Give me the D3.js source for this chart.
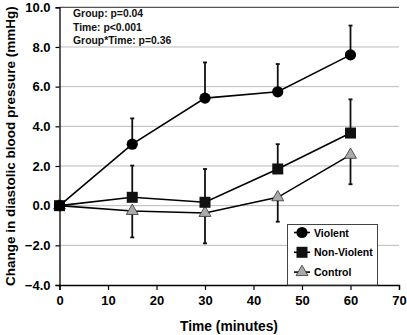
<!DOCTYPE html>
<html lang="en">
<head>
<meta charset="utf-8">
<title>Diastolic blood pressure</title>
<script src="https://d3js.org/d3.v7.min.js"></script>
<style>
  body { margin: 0; background: #fff; }
  text { font-family: "Liberation Sans", Arial, sans-serif; font-weight: bold; }
</style>
</head>
<body>
<script>
// data
const times = [0, 15, 30, 45, 60];
const violent = [0, 3.1, 5.42, 5.74, 7.6];
const violentErr = [0, 1.3, 1.8, 1.4, 1.48];       // drawn upward
const nonViolent = [0, 0.42, 0.17, 1.85, 3.66];
const nonViolentErr = [0, 1.6, 1.68, 1.25, 1.7];   // drawn upward
const control = [0, -0.27, -0.37, 0.42, 2.56];
const controlErr = [0, 1.33, 1.53, 1.23, 1.48];    // drawn downward
const xTicks = [0, 10, 20, 30, 40, 50, 60, 70];
const yTicks = [-4, -2, 0, 2, 4, 6, 8, 10];
const stats = ["Group: p=0.04", "Time: p<0.001", "Group*Time: p=0.36"];

const w = 407, h = 335;
const m = {left: 59.5, right: 8, top: 7.3, bottom: 50};

const svg = d3.select("body").append("svg")
    .attr("width", w).attr("height", h);

const x = d3.scaleLinear().domain([0, 70]).range([m.left, w - m.right]);
const y = d3.scaleLinear().domain([-4, 10]).range([h - m.bottom, m.top]);

// gridlines
svg.append("g").selectAll("line")
    .data(yTicks.filter(d => d > -4))
    .join("line")
    .attr("x1", x(0)).attr("x2", x(70))
    .attr("y1", d => y(d)).attr("y2", d => y(d))
    .attr("stroke", d => d === 10 ? "#555" : "#bbb")
    .attr("stroke-width", d => d === 10 ? 1.2 : 1);

// axes
const xAxis = svg.append("g")
    .attr("transform", `translate(0,${y(-4)})`)
    .call(d3.axisBottom(x).tickValues(xTicks).tickSize(5).tickPadding(6).tickFormat(d3.format("d")));
const yAxis = svg.append("g")
    .attr("transform", `translate(${x(0)},0)`)
    .call(d3.axisLeft(y).tickValues(yTicks).tickSize(4).tickPadding(5).tickFormat(d3.format(".1f")));
[xAxis, yAxis].forEach(a => {
  a.select(".domain").attr("stroke", "#000").attr("stroke-width", 1.3);
  a.selectAll(".tick line").attr("stroke", "#000").attr("stroke-width", 1.2);
  a.selectAll(".tick text").attr("fill", "#000").style("font-size", "13px")
    .style("font-family", "'Liberation Sans', Arial, sans-serif").style("font-weight", "bold");
});

// axis titles
svg.append("text")
    .attr("x", 229).attr("y", 331)
    .attr("text-anchor", "middle")
    .style("font-size", "13.8px")
    .text("Time (minutes)");
svg.append("text")
    .attr("transform", `translate(15,${(y(10) + y(-4)) / 2}) rotate(-90)`)
    .attr("text-anchor", "middle")
    .style("font-size", "13.5px")
    .text("Change in diastolic blood pressure (mmHg)");

// stats text
svg.append("g").selectAll("text")
    .data(stats)
    .join("text")
    .attr("x", 73).attr("y", (d, i) => 17.4 + i * 13.3)
    .style("font-size", "10.4px")
    .attr("fill", "#111")
    .text(d => d);

const line = d3.line().x(d => x(d[0])).y(d => y(d[1]));

const series = [
  {name: "Violent", vals: violent, err: violentErr, dir: 1, shape: "circle", fill: "#000"},
  {name: "Non-Violent", vals: nonViolent, err: nonViolentErr, dir: 1, shape: "square", fill: "#111"},
  {name: "Control", vals: control, err: controlErr, dir: -1, shape: "triangle", fill: "#aaa"}
];

function drawMarker(g, shape, fill, cx, cy) {
  if (shape === "circle") {
    g.append("circle").attr("cx", cx).attr("cy", cy).attr("r", 5.6).attr("fill", fill);
  } else if (shape === "square") {
    g.append("rect").attr("x", cx - 5.5).attr("y", cy - 5.5).attr("width", 11).attr("height", 11)
      .attr("fill", fill);
  } else {
    const tri = d3.symbol().type(d3.symbolTriangle).size(62);
    g.append("path").attr("d", tri()).attr("transform", `translate(${cx},${cy})`)
      .attr("fill", fill).attr("stroke", "#333").attr("stroke-width", 0.8);
  }
}

// error bars first
series.forEach(s => {
  const g = svg.append("g");
  times.forEach((t, i) => {
    if (s.err[i] === 0) return;
    const yEnd = y(s.vals[i] + s.dir * s.err[i]);
    g.append("line").attr("x1", x(t)).attr("x2", x(t))
      .attr("y1", y(s.vals[i])).attr("y2", yEnd)
      .attr("stroke", "#111").attr("stroke-width", 1.8);
    g.append("line").attr("x1", x(t) - 2).attr("x2", x(t) + 2)
      .attr("y1", yEnd).attr("y2", yEnd)
      .attr("stroke", "#111").attr("stroke-width", 1.8);
  });
});

// lines and markers, control drawn first
series.slice().reverse().forEach(s => {
  const pts = times.map((t, i) => [t, s.vals[i]]);
  svg.append("path").attr("d", line(pts))
    .attr("fill", "none").attr("stroke", "#000").attr("stroke-width", 1.6);
});
series.slice().reverse().forEach(s => {
  const g = svg.append("g");
  times.forEach((t, i) => drawMarker(g, s.shape, s.fill, x(t), y(s.vals[i])));
});

// legend
const lg = svg.append("g");
lg.append("rect")
    .attr("x", 287.5).attr("y", 224.5).attr("width", 90).attr("height", y(-4) - 224.5)
    .attr("fill", "#fff").attr("stroke", "#444").attr("stroke-width", 1);
series.forEach((s, i) => {
  const cy = 232.5 + i * 19.8;
  lg.append("line").attr("x1", 294).attr("x2", 310).attr("y1", cy).attr("y2", cy)
    .attr("stroke", "#000").attr("stroke-width", 1.6);
  drawMarker(lg, s.shape, s.fill, 302, cy);
  lg.append("text").attr("x", 314).attr("y", cy + 4)
    .style("font-size", "10.5px").text(s.name);
});
</script>
</body>
</html>
